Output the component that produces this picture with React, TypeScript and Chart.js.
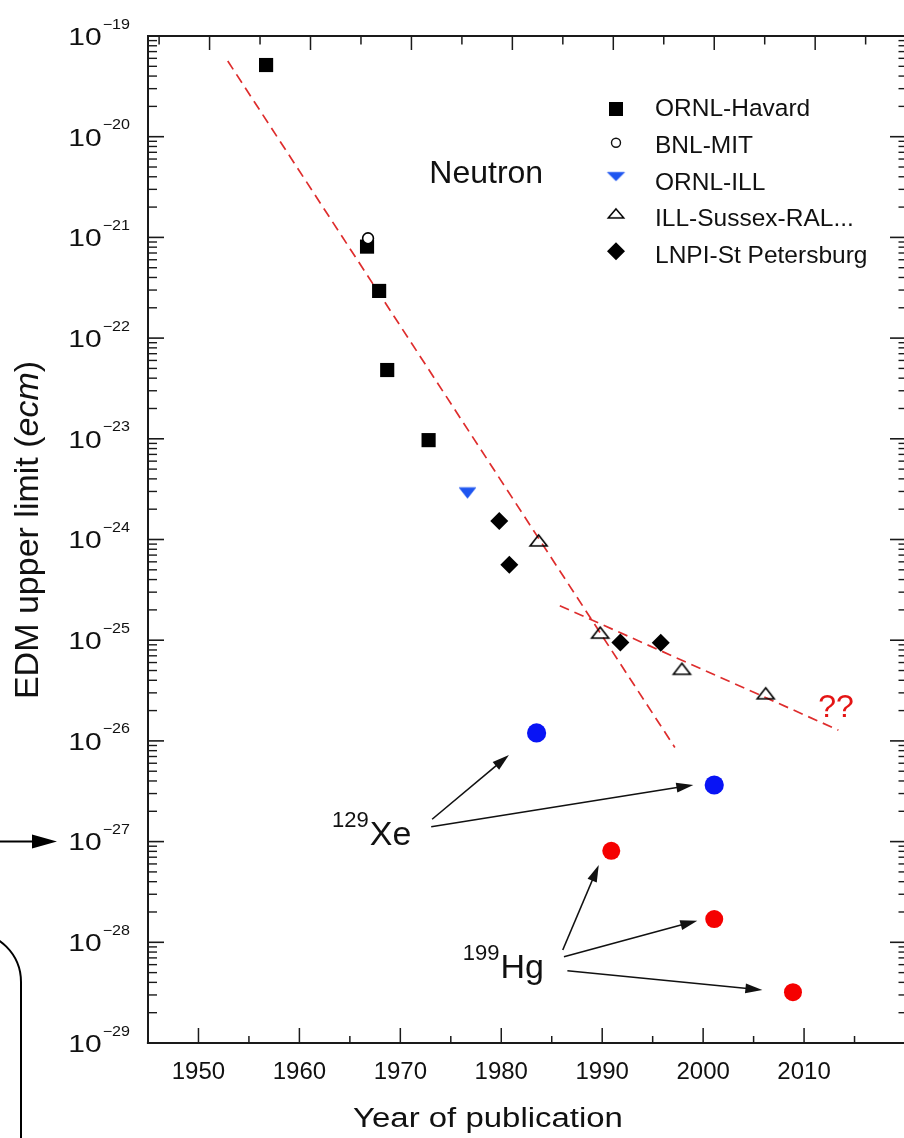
import React, { useEffect, useRef } from 'react';
import { Chart, registerables } from 'chart.js';

Chart.register(...registerables);

const FONT = "'Liberation Sans', Arial, Helvetica, sans-serif";

// ---- data (year of publication, EDM upper limit in e·cm) ----
const ornlHavardYears = [1956.7, 1966.7, 1967.9, 1968.7, 1972.8];
const ornlHavardEdm = [5.15e-20, 8.1e-22, 2.94e-22, 4.82e-23, 9.7e-24];
const bnlMitYears = [1966.8];
const bnlMitEdm = [9.8e-22];
const ornlIllYears = [1976.65];
const ornlIllEdm = [2.9e-24];
const illSussexYears = [1983.7, 1989.8, 1997.9, 2006.2];
const illSussexEdm = [9.8e-25, 1.19e-25, 5.2e-26, 2.97e-26];
const lnpiYears = [1979.8, 1980.8, 1991.8, 1995.8];
const lnpiEdm = [1.53e-24, 5.6e-25, 9.5e-26, 9.45e-26];
const xeYears = [1983.5, 2001.1];
const xeEdm = [1.2e-26, 3.65e-27];
const hgYears = [1990.9, 2001.1, 2008.9];
const hgEdm = [8.1e-28, 1.7e-28, 3.2e-29];
const trend1Years = [1952.9, 1997.2];
const trend1Edm = [5.65e-20, 8.6e-27];
const trend2Years = [1985.8, 2013.4];
const trend2Edm = [2.2e-25, 1.28e-26];

// axis ticks
const xMin = 1945;
const xMax = 2020;
const xTopShift = 1.1; // top axis of the figure is drawn slightly shifted
const yDecades = [-29, -28, -27, -26, -25, -24, -23, -22, -21, -20, -19];
const yMinorMultipliers = [2, 3, 4, 5, 6, 7, 8, 9];
const xTickYears = [1945, 1950, 1955, 1960, 1965, 1970, 1975, 1980, 1985, 1990, 1995, 2000, 2005, 2010, 2015, 2020];

// annotations (data space)
const xeArrowsFrom = [[1973.15, -26.778], [1973.06, -26.852]];
const xeArrowsTo = [[1980.76, -26.14], [1999.03, -26.437]];
const hgArrowsFrom = [[1986.09, -28.077], [1986.21, -28.143], [1986.55, -28.282]];
const hgArrowsTo = [[1989.66, -27.232], [1999.42, -27.785], [2005.87, -28.474]];
const xeLabelAt = [1963.24, -27.034];
const hgLabelAt = [1976.19, -28.354];
const neutronLabelAt = [1972.87, -20.463];
const qqLabelAt = [2011.4, -25.76];

const legendLabels = ['ORNL-Havard', 'BNL-MIT', 'ORNL-ILL', 'ILL-Sussex-RAL...', 'LNPI-St Petersburg'];

const RED_LINE = 'rgb(222,45,45)';
const BLUE_TRI = 'rgb(30,85,240)';
const BLUE_DOT = 'rgb(8,20,245)';
const RED_DOT = 'rgb(245,0,0)';

function zip(xs: number[], ys: number[]) {
  return xs.map((x, i) => ({ x, y: ys[i] }));
}

function makeTriangle(w: number, h: number, down: boolean, fill: string | null, stroke: string | null, lw: number) {
  const pad = Math.ceil(lw) + 1;
  const c = document.createElement('canvas');
  c.width = Math.ceil(w + pad * 2);
  c.height = Math.ceil(h + pad * 2);
  const g = c.getContext('2d')!;
  const ox = (c.width - w) / 2;
  const oy = (c.height - h) / 2;
  g.beginPath();
  if (down) {
    g.moveTo(ox, oy);
    g.lineTo(ox + w, oy);
    g.lineTo(ox + w / 2, oy + h);
  } else {
    g.moveTo(ox + w / 2, oy);
    g.lineTo(ox + w, oy + h);
    g.lineTo(ox, oy + h);
  }
  g.closePath();
  if (fill) {
    g.fillStyle = fill;
    g.fill();
  }
  if (stroke) {
    g.lineJoin = 'miter';
    g.strokeStyle = stroke;
    g.lineWidth = lw;
    g.stroke();
  }
  return c;
}

function arrow(ctx: CanvasRenderingContext2D, x1: number, y1: number, x2: number, y2: number, len: number, half: number, lw: number) {
  const a = Math.atan2(y2 - y1, x2 - x1);
  const bx = x2 - Math.cos(a) * len;
  const by = y2 - Math.sin(a) * len;
  ctx.beginPath();
  ctx.moveTo(x1, y1);
  ctx.lineTo(bx + Math.cos(a) * 2, by + Math.sin(a) * 2);
  ctx.lineWidth = lw;
  ctx.stroke();
  ctx.beginPath();
  ctx.moveTo(x2, y2);
  ctx.lineTo(bx - Math.sin(a) * half, by + Math.cos(a) * half);
  ctx.lineTo(bx + Math.sin(a) * half, by - Math.cos(a) * half);
  ctx.closePath();
  ctx.fill();
}

export default function App() {
  const ref = useRef<HTMLCanvasElement | null>(null);

  useEffect(() => {
    const canvas = ref.current!;
    const triUp = makeTriangle(17, 11, false, null, '#000', 1.6);
    const triDown = makeTriangle(16.5, 10.5, true, BLUE_TRI, BLUE_TRI, 0.8);
    const legendTriUp = makeTriangle(15.5, 9, false, null, '#000', 1.5);
    const legendTriDown = makeTriangle(17, 8.5, true, BLUE_TRI, BLUE_TRI, 0.8);

    const decor = {
      id: 'edmDecor',
      afterDraw(chart: any) {
        const ctx: CanvasRenderingContext2D = chart.ctx;
        const xs = chart.scales.x;
        const xt = chart.scales.x2;
        const ys = chart.scales.y;
        const { left, right, top, bottom } = chart.chartArea;
        const px = (v: number) => xs.getPixelForValue(v);
        const py = (lg: number) => ys.getPixelForValue(Math.pow(10, lg));

        ctx.save();
        ctx.strokeStyle = '#1a1a1a';
        ctx.fillStyle = '#1a1a1a';
        const seg = (a: number, b: number, c: number, d: number, w: number) => {
          ctx.beginPath();
          ctx.lineWidth = w;
          ctx.moveTo(a, b);
          ctx.lineTo(c, d);
          ctx.stroke();
        };

        // y ticks (left and right, inward)
        for (const e of yDecades) {
          const p = ys.getPixelForValue(Math.pow(10, e));
          seg(left, p, left + 16, p, 1.6);
          seg(right, p, right - 15, p, 1.6);
          if (e < -19) {
            for (const m of yMinorMultipliers) {
              const q = ys.getPixelForValue(m * Math.pow(10, e));
              seg(left, q, left + 9, q, 1.4);
              seg(right, q, right - 6.5, q, 1.4);
            }
          }
        }
        // x ticks bottom + shifted top
        for (const yr of xTickYears) {
          const major = yr % 10 === 0;
          const b = xs.getPixelForValue(yr);
          if (b > left + 1 && b < right - 1) seg(b, bottom, b, bottom - (major ? 15 : 7), 1.5);
          const t = xt.getPixelForValue(yr);
          if (t > left + 1 && t < right - 1) seg(t, top, t, top + (major ? 14 : 8.5), 1.5);
        }
        // frame
        ctx.lineCap = 'square';
        seg(left, top, right, top, 2);
        seg(left, top, left, bottom, 2);
        seg(left, bottom, right, bottom, 2.2);
        seg(right, top, right, bottom, 2);
        ctx.lineCap = 'butt';

        // y tick labels 10^n
        ctx.fillStyle = '#111';
        for (const e of yDecades) {
          const p = ys.getPixelForValue(Math.pow(10, e));
          ctx.save();
          ctx.translate(130, 0);
          ctx.textAlign = 'right';
          ctx.textBaseline = 'alphabetic';
          ctx.save();
          ctx.scale(1.15, 1);
          ctx.font = `14px ${FONT}`;
          const sup = '\u2212' + String(-e);
          ctx.fillText(sup, 0, p - 7.5);
          const sw = ctx.measureText(sup).width * 1.15;
          ctx.restore();
          ctx.translate(-sw - 1, 0);
          ctx.scale(1.25, 1);
          ctx.font = `24px ${FONT}`;
          ctx.fillText('10', 0, p + 8.8);
          ctx.restore();
        }

        // axis titles
        ctx.save();
        ctx.font = `27px ${FONT}`;
        ctx.textAlign = 'center';
        ctx.textBaseline = 'alphabetic';
        ctx.translate(488, 1127);
        ctx.scale(1.22, 1);
        ctx.fillText('Year of publication', 0, 0);
        ctx.restore();

        ctx.save();
        ctx.translate(37.5, 530);
        ctx.rotate(-Math.PI / 2);
        ctx.textBaseline = 'alphabetic';
        const p1 = 'EDM upper limit (';
        const p2 = 'ecm';
        const p3 = ')';
        ctx.font = `34px ${FONT}`;
        const w1 = ctx.measureText(p1).width;
        const w3 = ctx.measureText(p3).width;
        ctx.font = `italic 34px ${FONT}`;
        const w2 = ctx.measureText(p2).width;
        let sx = -(w1 + w2 + w3) / 2;
        ctx.font = `34px ${FONT}`;
        ctx.fillText(p1, sx, 0);
        sx += w1;
        ctx.font = `italic 34px ${FONT}`;
        ctx.fillText(p2, sx, 0);
        sx += w2;
        ctx.font = `34px ${FONT}`;
        ctx.fillText(p3, sx, 0);
        ctx.restore();

        // legend
        const lx = left + 468;
        const tx = left + 507;
        ctx.textAlign = 'left';
        ctx.textBaseline = 'alphabetic';
        ctx.font = `24.5px ${FONT}`;
        legendLabels.forEach((lab, i) => {
          const cy = top + 71 + i * 36.8;
          ctx.fillStyle = '#111';
          ctx.fillText(lab, tx, cy + 9);
          if (i === 0) {
            ctx.fillStyle = '#000';
            ctx.fillRect(lx - 7, cy - 5, 14, 14);
          } else if (i === 1) {
            ctx.beginPath();
            ctx.arc(lx, cy - 1, 4.5, 0, Math.PI * 2);
            ctx.lineWidth = 1.4;
            ctx.strokeStyle = '#111';
            ctx.stroke();
          } else if (i === 2) {
            ctx.drawImage(legendTriDown, lx - legendTriDown.width / 2, cy - 4 - legendTriDown.height / 2);
          } else if (i === 3) {
            ctx.drawImage(legendTriUp, lx - legendTriUp.width / 2, cy - 4 - legendTriUp.height / 2);
          } else {
            ctx.fillStyle = '#000';
            ctx.beginPath();
            ctx.moveTo(lx, cy - 12);
            ctx.lineTo(lx + 9, cy - 3);
            ctx.lineTo(lx, cy + 6);
            ctx.lineTo(lx - 9, cy - 3);
            ctx.closePath();
            ctx.fill();
          }
        });

        // text annotations
        ctx.fillStyle = '#111';
        ctx.font = `32px ${FONT}`;
        ctx.fillText('Neutron', px(neutronLabelAt[0]), py(neutronLabelAt[1]));
        ctx.fillStyle = 'rgb(228,20,20)';
        ctx.fillText('??', px(qqLabelAt[0]), py(qqLabelAt[1]));

        ctx.fillStyle = '#111';
        const isotope = (at: number[], mass: string, sym: string) => {
          const x0 = px(at[0]);
          const y0 = py(at[1]);
          ctx.font = `22px ${FONT}`;
          ctx.fillText(mass, x0, y0 - 18);
          const mw = ctx.measureText(mass).width;
          ctx.font = `34px ${FONT}`;
          ctx.fillText(sym, x0 + mw + 1, y0);
        };
        isotope(xeLabelAt, '129', 'Xe');
        isotope(hgLabelAt, '199', 'Hg');

        ctx.strokeStyle = '#111';
        ctx.fillStyle = '#111';
        xeArrowsFrom.forEach((f, i) => {
          const t = xeArrowsTo[i];
          arrow(ctx, px(f[0]), py(f[1]), px(t[0]), py(t[1]), 17, 5, 1.6);
        });
        hgArrowsFrom.forEach((f, i) => {
          const t = hgArrowsTo[i];
          arrow(ctx, px(f[0]), py(f[1]), px(t[0]), py(t[1]), 17, 5, 1.6);
        });

        // left-margin decoration: arrow pointing at 10^-27 and a box corner
        const a27 = ys.getPixelForValue(1e-27);
        ctx.strokeStyle = '#000';
        ctx.fillStyle = '#000';
        arrow(ctx, -5, a27, 57, a27, 25, 7, 2);
        ctx.beginPath();
        ctx.lineWidth = 2;
        ctx.moveTo(-40, 932);
        ctx.arcTo(21, 932, 21, 1140, 50);
        ctx.lineTo(21, 1145);
        ctx.stroke();

        ctx.restore();
      },
    };

    const chart = new Chart(canvas, {
      type: 'scatter',
      data: {
        datasets: [
          {
            label: 'BNL-MIT',
            data: zip(bnlMitYears, bnlMitEdm),
            pointStyle: 'circle',
            pointRadius: 5.4,
            pointBorderWidth: 1.6,
            pointBorderColor: '#000',
            pointBackgroundColor: '#fff',
            order: 0,
          },
          {
            label: 'ORNL-Havard',
            data: zip(ornlHavardYears, ornlHavardEdm),
            pointStyle: 'rect',
            pointRadius: 10,
            pointBorderWidth: 0,
            pointBackgroundColor: '#000',
            order: 1,
          },
          {
            label: 'ORNL-ILL',
            data: zip(ornlIllYears, ornlIllEdm),
            pointStyle: triDown,
            pointBorderWidth: 0,
            order: 1,
          },
          {
            label: 'ILL-Sussex-RAL...',
            data: zip(illSussexYears, illSussexEdm),
            pointStyle: triUp,
            pointBorderWidth: 0,
            order: 1,
          },
          {
            label: 'LNPI-St Petersburg',
            data: zip(lnpiYears, lnpiEdm),
            pointStyle: 'rectRot',
            pointRadius: 9,
            pointBorderWidth: 0,
            pointBackgroundColor: '#000',
            order: 1,
          },
          {
            label: '129Xe',
            data: zip(xeYears, xeEdm),
            pointStyle: 'circle',
            pointRadius: 9.6,
            pointBorderWidth: 0,
            pointBackgroundColor: BLUE_DOT,
            order: 1,
          },
          {
            label: '199Hg',
            data: zip(hgYears, hgEdm),
            pointStyle: 'circle',
            pointRadius: 9,
            pointBorderWidth: 0,
            pointBackgroundColor: RED_DOT,
            order: 1,
          },
          {
            label: 'trend (early)',
            data: zip(trend1Years, trend1Edm),
            showLine: true,
            borderColor: RED_LINE,
            borderWidth: 1.7,
            borderDash: [10, 6],
            pointRadius: 0,
            order: 5,
          },
          {
            label: 'trend (recent)',
            data: zip(trend2Years, trend2Edm),
            showLine: true,
            borderColor: RED_LINE,
            borderWidth: 1.7,
            borderDash: [10, 6],
            pointRadius: 0,
            order: 5,
          },
        ] as any,
      },
      options: {
        responsive: false,
        animation: false,
        devicePixelRatio: 1,
        events: [],
        layout: { padding: { left: 0, right: 13, top: 36, bottom: 0 } },
        plugins: { legend: { display: false }, tooltip: { enabled: false }, title: { display: false } },
        scales: {
          x: {
            type: 'linear',
            position: 'bottom',
            min: xMin,
            max: xMax,
            grid: { display: false, drawTicks: false },
            border: { display: false },
            ticks: {
              stepSize: 10,
              includeBounds: false,
              autoSkip: false,
              maxRotation: 0,
              padding: 15,
              color: '#111',
              font: { family: FONT, size: 24 },
              callback: (v: any) => (v % 10 === 0 && v >= 1950 && v <= 2010 ? String(v) : ''),
            },
            afterFit: (s: any) => {
              s.height = 95;
            },
          },
          x2: {
            type: 'linear',
            position: 'top',
            display: false,
            min: xMin - xTopShift,
            max: xMax - xTopShift,
          },
          y: {
            type: 'logarithmic',
            position: 'left',
            min: 1e-29,
            max: 1e-19,
            grid: { display: false, drawTicks: false },
            border: { display: false },
            ticks: { display: false },
            afterFit: (s: any) => {
              s.width = 148;
            },
          },
        } as any,
      },
      plugins: [decor],
    });
    return () => chart.destroy();
  }, []);

  return (
    <div style={{ position: 'fixed', left: 0, top: 0, width: 904, height: 1138, overflow: 'hidden', background: '#fff' }}>
      <canvas ref={ref} width={920} height={1138} style={{ display: 'block', width: 920, height: 1138 }} />
    </div>
  );
}
